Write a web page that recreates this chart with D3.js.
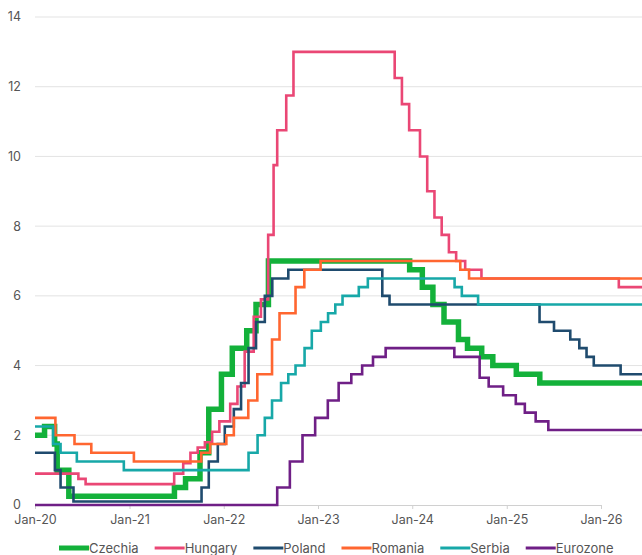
<!DOCTYPE html>
<html>
<head>
<meta charset="utf-8">
<script src="https://cdn.jsdelivr.net/npm/d3@7"></script>
<style>
  body { margin: 0; background: #fff; }
  text { font-family: Inter, "Liberation Sans", Arial, sans-serif; fill: #555; }
</style>
</head>
<body>
<div id="chart"></div>
<script>
// policy rates, change dates and new level
let czechia = [
  ['2020-01-01', 2.00], ['2020-02-07', 2.25], ['2020-03-17', 1.75], ['2020-03-27', 1.00],
  ['2020-05-11', 0.25], ['2021-06-24', 0.50], ['2021-08-06', 0.75], ['2021-10-01', 1.50],
  ['2021-11-04', 2.75], ['2021-12-23', 3.75], ['2022-02-03', 4.50], ['2022-03-31', 5.00],
  ['2022-05-06', 5.75], ['2022-06-23', 7.00], ['2023-12-22', 6.75], ['2024-02-09', 6.25],
  ['2024-03-21', 5.75], ['2024-05-03', 5.25], ['2024-06-28', 4.75], ['2024-08-02', 4.50],
  ['2024-09-26', 4.25], ['2024-11-08', 4.00], ['2025-02-07', 3.75], ['2025-05-09', 3.50]
];
let hungary = [
  ['2020-01-01', 0.90], ['2020-06-17', 0.75], ['2020-07-15', 0.60], ['2021-06-23', 0.90],
  ['2021-07-28', 1.20], ['2021-08-25', 1.50], ['2021-09-22', 1.65], ['2021-10-20', 1.80],
  ['2021-11-17', 2.10], ['2021-12-15', 2.40], ['2022-01-26', 2.90], ['2022-02-23', 3.40],
  ['2022-03-23', 4.40], ['2022-04-27', 5.40], ['2022-05-25', 5.90], ['2022-06-22', 7.75],
  ['2022-07-13', 9.75], ['2022-07-27', 10.75], ['2022-08-31', 11.75], ['2022-09-28', 13.00],
  ['2023-10-25', 12.25], ['2023-11-22', 11.50], ['2023-12-20', 10.75], ['2024-01-31', 10.00],
  ['2024-02-28', 9.00], ['2024-03-27', 8.25], ['2024-04-24', 7.75], ['2024-05-22', 7.25],
  ['2024-06-19', 7.00], ['2024-07-24', 6.75], ['2024-09-25', 6.50], ['2026-03-11', 6.25]
];
let poland = [
  ['2020-01-01', 1.50], ['2020-03-18', 1.00], ['2020-04-09', 0.50], ['2020-05-29', 0.10],
  ['2021-10-07', 0.50], ['2021-11-04', 1.25], ['2021-12-09', 1.75], ['2022-01-05', 2.25],
  ['2022-02-09', 2.75], ['2022-03-09', 3.50], ['2022-04-07', 4.50], ['2022-05-06', 5.25],
  ['2022-06-09', 6.00], ['2022-07-08', 6.50], ['2022-09-08', 6.75], ['2023-09-07', 6.00],
  ['2023-10-05', 5.75], ['2025-05-08', 5.25], ['2025-07-03', 5.00], ['2025-09-04', 4.75],
  ['2025-10-09', 4.50], ['2025-11-06', 4.25], ['2025-12-04', 4.00], ['2026-03-18', 3.75]
];
let romania = [
  ['2020-01-01', 2.50], ['2020-03-20', 2.00], ['2020-06-02', 1.75], ['2020-08-06', 1.50],
  ['2021-01-18', 1.25], ['2021-10-06', 1.50], ['2021-11-09', 1.75], ['2022-01-11', 2.00],
  ['2022-02-09', 2.50], ['2022-04-06', 3.00], ['2022-05-11', 3.75], ['2022-07-07', 4.75],
  ['2022-08-05', 5.50], ['2022-10-06', 6.25], ['2022-11-09', 6.75], ['2023-01-11', 7.00],
  ['2024-07-05', 6.75], ['2024-08-08', 6.50]
];
let serbia = [
  ['2020-01-01', 2.25], ['2020-03-11', 1.75], ['2020-04-09', 1.50], ['2020-06-11', 1.25],
  ['2020-12-10', 1.00], ['2022-04-07', 1.50], ['2022-05-12', 2.00], ['2022-06-09', 2.50],
  ['2022-07-07', 3.00], ['2022-08-11', 3.50], ['2022-09-08', 3.75], ['2022-10-06', 4.00],
  ['2022-11-10', 4.50], ['2022-12-08', 5.00], ['2023-01-12', 5.25], ['2023-02-09', 5.50],
  ['2023-03-09', 5.75], ['2023-04-06', 6.00], ['2023-06-08', 6.25], ['2023-07-13', 6.50],
  ['2024-06-13', 6.25], ['2024-07-11', 6.00], ['2024-09-12', 5.75]
];
let eurozone = [
  ['2020-01-01', 0.00], ['2022-07-27', 0.50], ['2022-09-14', 1.25], ['2022-11-02', 2.00],
  ['2022-12-21', 2.50], ['2023-02-08', 3.00], ['2023-03-22', 3.50], ['2023-05-10', 3.75],
  ['2023-06-21', 4.00], ['2023-08-02', 4.25], ['2023-09-20', 4.50], ['2024-06-12', 4.25],
  ['2024-09-18', 3.65], ['2024-10-23', 3.40], ['2024-12-18', 3.15], ['2025-02-05', 2.90],
  ['2025-03-12', 2.65], ['2025-04-23', 2.40], ['2025-06-11', 2.15]
];

let names = ['Czechia', 'Hungary', 'Poland', 'Romania', 'Serbia', 'Eurozone'];
let colors = ['#13b13a', '#ea4775', '#1f4b6e', '#ff6630', '#17a8a8', '#6f1f86'];
let widths = [5.5, 2.6, 2.6, 2.6, 2.6, 2.6];
let allSeries = [czechia, hungary, poland, romania, serbia, eurozone];
let yTicks = [0, 2, 4, 6, 8, 10, 12, 14];
let xTickYears = [2020, 2021, 2022, 2023, 2024, 2025, 2026];
let endDate = '2026-06-12';

let width = 642;
let height = 555;
let parse = d3.timeParse('%Y-%m-%d');

let x = d3.scaleTime()
  .domain([parse('2020-01-01'), parse('2026-01-01')])
  .range([35, 601]);
let y = d3.scaleLinear().domain([0, 14]).range([505, 17]);

let svg = d3.select('#chart')
  .append('svg')
  .attr('width', width)
  .attr('height', height);

// gridlines
svg.append('g')
  .selectAll('line')
  .data(yTicks.filter(d => d > 0))
  .enter()
  .append('line')
  .attr('x1', x.range()[0])
  .attr('x2', width)
  .attr('y1', d => y(d))
  .attr('y2', d => y(d))
  .attr('stroke', '#e3e3e3')
  .attr('stroke-width', 1);

// y labels
svg.append('g')
  .selectAll('text')
  .data(yTicks)
  .enter()
  .append('text')
  .attr('x', 21)
  .attr('y', d => y(d))
  .attr('dy', '0.35em')
  .attr('text-anchor', 'end')
  .style('font-size', '12.5px')
  .text(d => d);

// x axis
let xAxis = d3.axisBottom(x)
  .tickValues(xTickYears.map(yr => new Date(yr, 0, 1)))
  .tickFormat(d3.timeFormat('%b-%y'))
  .tickSize(4)
  .tickSizeOuter(0)
  .tickPadding(6);

let gx = svg.append('g')
  .attr('transform', `translate(0,${y(0)})`)
  .call(xAxis);
gx.select('.domain').attr('stroke', '#d0d0d0');
gx.selectAll('.tick line').attr('stroke', '#d0d0d0');
gx.selectAll('.tick text')
  .style('font-size', '12.5px')
  .style('font-family', 'Inter, "Liberation Sans", Arial, sans-serif')
  .attr('fill', '#555');

let line = d3.line()
  .x(d => x(d[0]))
  .y(d => y(d[1]))
  .curve(d3.curveStepAfter);

allSeries.forEach((s, i) => {
  let pts = s.map(d => [parse(d[0]), d[1]]);
  pts.push([parse(endDate), s[s.length - 1][1]]);
  svg.append('path')
    .datum(pts)
    .attr('d', line)
    .attr('fill', 'none')
    .attr('stroke', colors[i])
    .attr('stroke-width', widths[i])
    .attr('stroke-linejoin', 'miter');
});

// legend
let legend = svg.append('g').attr('transform', 'translate(0,548)');
let pos = 59;
names.forEach((n, i) => {
  let item = legend.append('g').attr('transform', `translate(${pos},0)`);
  item.append('line')
    .attr('x1', 0).attr('x2', 30)
    .attr('y1', 0).attr('y2', 0)
    .attr('stroke', colors[i])
    .attr('stroke-width', widths[i] > 3 ? 5 : 3);
  let t = item.append('text')
    .attr('x', 30)
    .attr('dy', '0.35em')
    .style('font-size', '13px')
    .text(n);
  pos += 30 + t.node().getComputedTextLength() + 16;
});
</script>
</body>
</html>
